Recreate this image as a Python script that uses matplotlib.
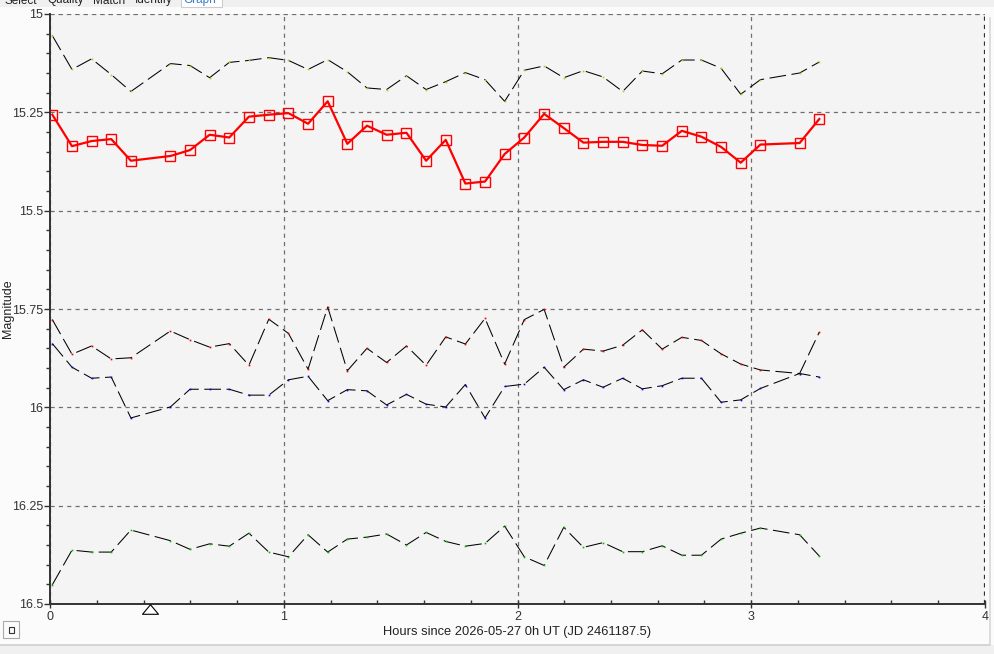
import numpy as np
import matplotlib
matplotlib.use('Agg')
import matplotlib.pyplot as plt
from matplotlib.patches import Rectangle
from matplotlib.path import Path
from matplotlib.ticker import MultipleLocator
from matplotlib.transforms import offset_copy

plt.rcParams['font.family'] = ['Liberation Sans', 'DejaVu Sans']
plt.rcParams['lines.scale_dashes'] = False

# observation times (hours since 2026-05-27 0h UT)
hours = [0.010, 0.094, 0.178, 0.262, 0.346, 0.515, 0.599, 0.683, 0.767, 0.851,
         0.936, 1.020, 1.104, 1.188, 1.272, 1.356, 1.440, 1.525, 1.609, 1.693,
         1.777, 1.861, 1.945, 2.029, 2.114, 2.198, 2.282, 2.366, 2.450, 2.534,
         2.619, 2.703, 2.787, 2.871, 2.955, 3.039, 3.207, 3.291]

target = [15.256, 15.336, 15.323, 15.318, 15.373, 15.361, 15.346, 15.307, 15.314, 15.261,
          15.256, 15.252, 15.279, 15.222, 15.330, 15.284, 15.307, 15.302, 15.373, 15.320,
          15.431, 15.426, 15.356, 15.314, 15.254, 15.290, 15.327, 15.325, 15.325, 15.333,
          15.335, 15.297, 15.312, 15.338, 15.378, 15.332, 15.328, 15.267]

comp1 = [15.055, 15.141, 15.114, 15.154, 15.197, 15.126, 15.131, 15.162, 15.123, 15.118,
         15.111, 15.118, 15.141, 15.116, 15.147, 15.188, 15.192, 15.157, 15.192, 15.172,
         15.149, 15.167, 15.222, 15.143, 15.132, 15.162, 15.144, 15.160, 15.197, 15.145,
         15.152, 15.117, 15.117, 15.138, 15.204, 15.167, 15.150, 15.122]

comp2 = [15.777, 15.865, 15.844, 15.877, 15.874, 15.806, 15.828, 15.847, 15.838, 15.893,
         15.776, 15.812, 15.903, 15.745, 15.907, 15.850, 15.886, 15.844, 15.893, 15.821,
         15.839, 15.774, 15.890, 15.777, 15.751, 15.898, 15.852, 15.857, 15.842, 15.803,
         15.852, 15.822, 15.830, 15.864, 15.890, 15.905, 15.914, 15.809]

comp3 = [15.838, 15.898, 15.926, 15.923, 16.027, 15.999, 15.954, 15.954, 15.954, 15.969,
         15.969, 15.930, 15.921, 15.983, 15.955, 15.958, 15.994, 15.967, 15.992, 15.999,
         15.942, 16.027, 15.947, 15.941, 15.898, 15.955, 15.930, 15.949, 15.926, 15.953,
         15.945, 15.926, 15.926, 15.987, 15.981, 15.952, 15.914, 15.923]

comp4 = [16.451, 16.363, 16.368, 16.368, 16.312, 16.339, 16.361, 16.347, 16.353, 16.320,
         16.368, 16.380, 16.324, 16.368, 16.335, 16.330, 16.322, 16.350, 16.318, 16.341,
         16.353, 16.346, 16.302, 16.380, 16.402, 16.305, 16.356, 16.344, 16.367, 16.367,
         16.352, 16.376, 16.376, 16.335, 16.320, 16.307, 16.324, 16.378]

comp_dot_colors = ['#c8c800', '#e00000', '#0000e0', '#00c000']

y_ticks = [15, 15.25, 15.5, 15.75, 16, 16.25, 16.5]
y_labels = ['15', '15.25', '15.5', '15.75', '16', '16.25', '16.5']
x_ticks = [0, 1, 2, 3, 4]
marker_time = 0.428
tabs = ['Select', 'Quality', 'Match', 'Identify', 'Graph']
tab_x = [21, 66, 109, 154, 200]

fig = plt.figure(figsize=(9.95, 6.54), dpi=100)
fig.patch.set_facecolor('#fbfbfb')
W, H = 995.0, 654.0

# window chrome
fig.add_artist(Rectangle((0, 647 / H), 1, 7 / H, transform=fig.transFigure,
                         facecolor='#f0f0f0', edgecolor='none'))
fig.add_artist(Rectangle((0, 0), 1, 9 / H, transform=fig.transFigure,
                         facecolor='#f0f0f0', edgecolor='none'))
fig.add_artist(plt.Line2D([0, 990 / W], [9 / H, 9 / H], transform=fig.transFigure,
                          color='#cfcfcf', lw=1.2))
fig.add_artist(plt.Line2D([990 / W, 990 / W], [9 / H, 636 / H], transform=fig.transFigure,
                          color='#d8d8d8', lw=1.2))
fig.add_artist(Rectangle((181 / W, 647 / H), 41 / W, 10 / H, transform=fig.transFigure,
                         facecolor='#ffffff', edgecolor='#cccccc', lw=0.8))
for name, xp in zip(tabs, tab_x):
    fig.text(xp / W, 1 - 0.5 / H, name, ha='center', va='center', fontsize=8.5,
             color='#3a78c8' if name == 'Graph' else '#222222')
fig.add_artist(Rectangle((3 / W, 16 / H), 16 / W, 17 / H, transform=fig.transFigure,
                         facecolor='#fbfbfb', edgecolor='#aaaaaa', lw=0.8))
fig.add_artist(Rectangle((9 / W, 21 / H), 5 / W, 6 / H, transform=fig.transFigure,
                         facecolor='none', edgecolor='#333333', lw=0.8))

ax = fig.add_axes([50 / W, 50 / H, 935 / W, 590 / H])
ax.set_facecolor('#f4f4f4')

for series in [comp1, comp2, comp3, comp4]:
    ax.plot(hours, series, color='black', lw=0.75, dashes=(12, 4), zorder=3)
for series, c in zip([comp1, comp2, comp3, comp4], comp_dot_colors):
    ax.plot(hours, series, ls='none', marker='s', ms=1.2, mew=0, color=c, zorder=4)

ax.plot(hours, target, color='#ff0000', lw=1.6, marker='s', ms=6.5,
        mfc='none', mec='#ff0000', mew=1.0, zorder=5)

ax.set_xlim(0, 4)
ax.set_ylim(16.5, 15)
ax.set_xticks(x_ticks)
ax.set_yticks(y_ticks, y_labels)
ax.xaxis.set_minor_locator(MultipleLocator(0.2))
ax.yaxis.set_minor_locator(MultipleLocator(0.05))
ax.tick_params(axis='both', which='major', labelsize=9, colors='#333333',
               length=4, width=1)
ax.tick_params(axis='x', which='major', direction='inout', length=6, pad=2)
ax.tick_params(axis='y', which='major', direction='out', pad=1)
ax.tick_params(axis='x', which='minor', direction='in', length=3, width=1, color='#333333')
ax.tick_params(axis='y', which='minor', direction='out', length=3, width=1, color='#333333')

ax.grid(True, which='major', color='#707070', lw=0.9, dashes=(3, 3))
ax.axhline(15, color='#707070', lw=1.2, dashes=(3, 3), zorder=2)
ax.axvline(4, color='#303030', lw=1.6, dashes=(3, 3), zorder=2)
for s in ['top', 'right']:
    ax.spines[s].set_visible(False)
for s in ['left', 'bottom']:
    ax.spines[s].set_color('#333333')
    ax.spines[s].set_linewidth(1.4)

tri = Path([(-1, -0.6), (1, -0.6), (0, 0.6), (-1, -0.6)],
           [Path.MOVETO, Path.LINETO, Path.LINETO, Path.CLOSEPOLY])
ax.plot([marker_time], [16.5], marker=tri, ms=11.5, mfc='white', mec='black',
        mew=0.8, ls='none', clip_on=False, zorder=6,
        transform=offset_copy(ax.transData, fig=fig, y=-5, units='dots'))

ax.set_ylabel('Magnitude', fontsize=9, color='#222222')
ax.set_xlabel('Hours since 2026-05-27 0h UT (JD 2461187.5)', fontsize=9.3,
              color='#222222')
ax.yaxis.set_label_coords(-0.038, 0.5)
ax.xaxis.set_label_coords(0.5, -0.038)
ax.xaxis.label.set_va('top')

fig.savefig('out.png', dpi=100, facecolor=fig.get_facecolor())
